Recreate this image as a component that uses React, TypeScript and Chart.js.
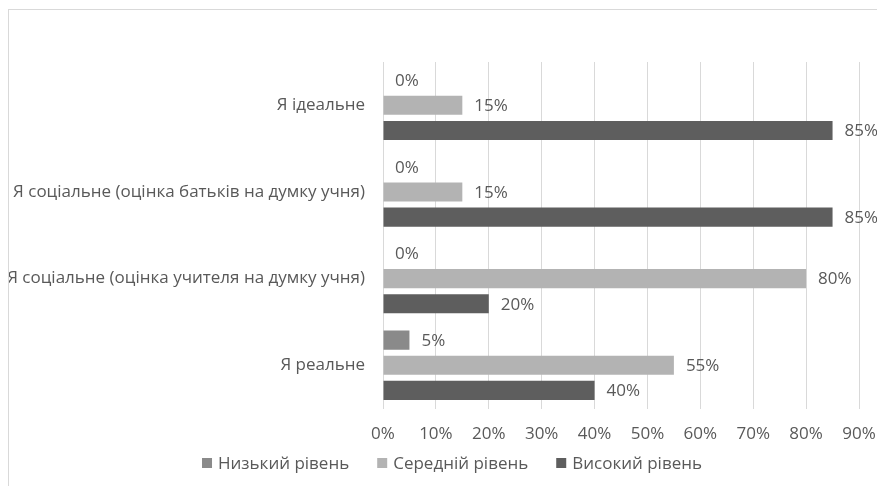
import React, { useEffect, useRef } from "react";
import { Chart, registerables } from "chart.js";

Chart.register(...registerables);

const categories = [
  "Я ідеальне",
  "Я соціальне (оцінка батьків на думку учня)",
  "Я соціальне (оцінка учителя на думку учня)",
  "Я реальне",
];
const seriesNames = ["Низький рівень", "Середній рівень", "Високий рівень"];
const lowValues = [0, 0, 0, 5];
const midValues = [15, 15, 80, 55];
const highValues = [85, 85, 20, 40];

const colors = ["#8a8a8a", "#b3b3b3", "#5e5e5e"];
const textColor = "#595959";
const FONT = "'Open Sans', 'Noto Sans', sans-serif";
const FS = 17;

const valueLabels = {
  id: "valueLabels",
  afterDatasetsDraw(chart: any) {
    const ctx = chart.ctx;
    ctx.save();
    ctx.font = `${FS}px ${FONT}`;
    ctx.fillStyle = textColor;
    ctx.textAlign = "left";
    ctx.textBaseline = "middle";
    chart.data.datasets.forEach((ds: any, i: number) => {
      const meta = chart.getDatasetMeta(i);
      meta.data.forEach((el: any, j: number) => {
        ctx.fillText(`${ds.data[j]}%`, el.x + 12, el.y + 1);
      });
    });
    ctx.restore();
  },
};

const customLegend = {
  id: "customLegend",
  afterDraw(chart: any) {
    const ctx = chart.ctx;
    ctx.save();
    ctx.font = `${FS}px ${FONT}`;
    ctx.textBaseline = "middle";
    ctx.textAlign = "left";
    const box = 10;
    const boxGap = 6;
    const itemGap = 28;
    const items = chart.data.datasets.map((ds: any) => ({
      label: ds.label,
      color: ds.backgroundColor,
      w: box + boxGap + ctx.measureText(ds.label).width,
    }));
    const total =
      items.reduce((a: number, it: any) => a + it.w, 0) + itemGap * (items.length - 1);
    const cx = 443;
    const cy = 453;
    let x = cx - total / 2;
    items.forEach((it: any) => {
      ctx.fillStyle = it.color;
      ctx.fillRect(x, cy - box / 2, box, box);
      ctx.fillStyle = textColor;
      ctx.fillText(it.label, x + box + boxGap, cy + 1);
      x += it.w + itemGap;
    });
    ctx.restore();
  },
};

export default function App() {
  const ref = useRef<HTMLCanvasElement>(null);
  useEffect(() => {
    const chart = new Chart(ref.current!, {
      type: "bar",
      data: {
        labels: categories,
        datasets: [lowValues, midValues, highValues].map((d, i) => ({
          label: seriesNames[i],
          data: d,
          backgroundColor: colors[i],
          borderWidth: 0,
          barPercentage: 0.76,
          categoryPercentage: 0.87,
        })),
      },
      options: {
        indexAxis: "y",
        animation: false,
        responsive: false,
        maintainAspectRatio: false,
        layout: { padding: { top: 52, right: 18, left: 0, bottom: 26 } },
        scales: {
          x: {
            min: 0,
            max: 90,
            afterFit: (s: any) => {
              s.paddingLeft = 0;
              s.paddingRight = 0;
            },
            ticks: {
              stepSize: 10,
              callback: (v: any) => `${v}%`,
              color: textColor,
              font: { family: FONT, size: FS },
              padding: 15.5,
              maxRotation: 0,
              autoSkip: false,
            },
            grid: { color: "#d9d9d9", drawTicks: false },
            border: { display: false },
          },
          y: {
            afterFit: (s: any) => {
              s.width = 374;
            },
            ticks: {
              color: textColor,
              font: { family: FONT, size: FS },
              padding: 18,
            },
            grid: { display: false, drawTicks: false },
            border: { color: "#d9d9d9" },
          },
        },
        plugins: {
          legend: { display: false },
          tooltip: { enabled: false },
        },
      },
      plugins: [valueLabels, customLegend],
    } as any);
    return () => chart.destroy();
  }, []);
  return (
    <div
      style={{
        position: "absolute",
        left: 8,
        top: 9,
        width: 869,
        height: 477,
        borderLeft: "1px solid #d9d9d9",
        borderTop: "1px solid #d9d9d9",
        overflow: "hidden",
      }}
    >
      <canvas ref={ref} width={868} height={476} style={{ display: "block" }} />
    </div>
  );
}
